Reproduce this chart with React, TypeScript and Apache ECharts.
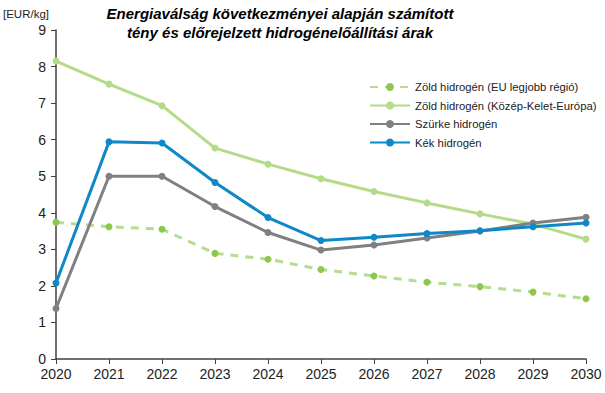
import React, { useEffect, useRef } from "react";
import * as echarts from "echarts";

const years = ["2020","2021","2022","2023","2024","2025","2026","2027","2028","2029","2030"];
const greenBest = [3.74, 3.62, 3.55, 2.89, 2.73, 2.45, 2.27, 2.10, 1.98, 1.83, 1.65];
const greenCEE = [8.15, 7.52, 6.93, 5.77, 5.33, 4.93, 4.58, 4.27, 3.97, 3.69, 3.28];
const grey = [1.38, 5.0, 5.0, 4.17, 3.46, 2.98, 3.12, 3.31, 3.5, 3.72, 3.88];
const blue = [2.08, 5.94, 5.91, 4.83, 3.87, 3.24, 3.33, 3.43, 3.51, 3.62, 3.72];
const seriesNames = [
  "Zöld hidrogén (EU legjobb régió)",
  "Zöld hidrogén (Közép-Kelet-Európa)",
  "Szürke hidrogén",
  "Kék hidrogén",
];
const titleLines = [
  "Energiaválság következményei alapján számított",
  "tény és előrejelzett hidrogénelőállítási árak",
];
const unitLabel = "[EUR/kg]";

const FONT = "'Liberation Sans', Arial, sans-serif";

export default function App() {
  const ref = useRef<HTMLDivElement>(null);
  useEffect(() => {
    document.body.style.margin = "0";
    if (!ref.current) return;
    const chart = echarts.init(ref.current, null, { renderer: "svg" });
    const mk = (name: string, data: number[], color: string, markerColor: string, dashed: boolean) => ({
      name,
      type: "line",
      data,
      symbol: "circle",
      symbolSize: 7,
      showSymbol: true,
      itemStyle: { color: markerColor },
      lineStyle: { color, width: 3, type: dashed ? [8, 7] : "solid" },
    });
    chart.setOption({
      animation: false,
      textStyle: { fontFamily: FONT },
      grid: { left: 56, right: 19, top: 30, bottom: 34 },
      graphic: [
        {
          type: "text",
          left: 3,
          top: 8,
          style: { text: unitLabel, fontSize: 11.5, fill: "#222", fontFamily: FONT },
        },
        {
          type: "text",
          x: 280,
          y: 4,
          style: {
            text: titleLines.join("\n"),
            fontSize: 15,
            lineHeight: 19,
            fontWeight: "bold",
            fontStyle: "italic",
            fill: "#000",
            align: "center",
            fontFamily: FONT,
          },
        },
      ],
      legend: {
        orient: "vertical",
        left: 364,
        top: 75,
        itemGap: 4.5,
        itemWidth: 40,
        itemHeight: 10,
        textStyle: { fontSize: 11.3, color: "#222", fontFamily: FONT, lineHeight: 14 },
        data: seriesNames,
      },
      xAxis: {
        type: "category",
        data: years,
        boundaryGap: false,
        axisLine: { lineStyle: { color: "#404040", width: 1.5 } },
        axisTick: { alignWithLabel: true, length: 5, lineStyle: { color: "#404040" } },
        axisLabel: { fontSize: 14, color: "#222", margin: 8 },
      },
      yAxis: {
        type: "value",
        min: 0,
        max: 9,
        interval: 1,
        splitLine: { show: false },
        axisLine: { show: true, lineStyle: { color: "#404040", width: 1.5 } },
        axisTick: { show: true, length: 5, lineStyle: { color: "#404040" } },
        axisLabel: { fontSize: 14, color: "#222", margin: 10 },
      },
      series: [
        mk(seriesNames[0], greenBest, "#b5dc8f", "#8cc84b", true),
        mk(seriesNames[1], greenCEE, "#b3db8a", "#b3db8a", false),
        mk(seriesNames[2], grey, "#808080", "#808080", false),
        mk(seriesNames[3], blue, "#0e88c8", "#0e88c8", false),
      ],
    });
    return () => chart.dispose();
  }, []);
  return <div ref={ref} style={{ width: 605, height: 393 }} />;
}
